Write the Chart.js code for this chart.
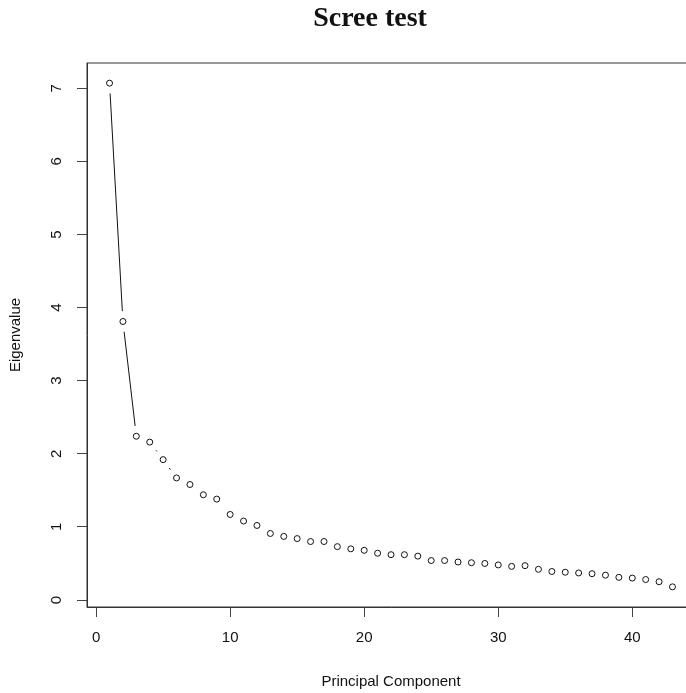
<!DOCTYPE html>
<html>
<head>
<meta charset="utf-8">
<script src="https://cdn.jsdelivr.net/npm/chart.js@4.4.0/dist/chart.umd.min.js"></script>
<style>
  html, body { margin: 0; padding: 0; background: #fff; overflow: hidden; }
  #wrap { position: relative; width: 700px; height: 693px; }
</style>
</head>
<body>
<div id="wrap"><canvas id="screeChart"></canvas></div>
<script>
// scree plot data
const components = [1, 2, 3, 4, 5, 6, 7, 8, 9, 10, 11, 12, 13, 14, 15, 16, 17, 18, 19, 20,
  21, 22, 23, 24, 25, 26, 27, 28, 29, 30, 31, 32, 33, 34, 35, 36, 37, 38, 39, 40, 41, 42, 43];
const eigenvalues = [7.07, 3.81, 2.24, 2.16, 1.92, 1.67, 1.58, 1.44, 1.38, 1.17,
  1.08, 1.02, 0.91, 0.87, 0.84, 0.80, 0.80, 0.73, 0.70, 0.68,
  0.64, 0.62, 0.62, 0.60, 0.54, 0.54, 0.52, 0.51, 0.50, 0.48,
  0.46, 0.47, 0.42, 0.39, 0.38, 0.37, 0.36, 0.34, 0.31, 0.30,
  0.28, 0.25, 0.18];
const xTicks = [0, 10, 20, 30, 40];
const yTicks = [0, 1, 2, 3, 4, 5, 6, 7];

// R style 4% axis extension
function extend(vals) {
  const lo = Math.min(...vals), hi = Math.max(...vals);
  const d = (hi - lo) * 0.04;
  return [lo - d, hi + d];
}
const [xMin, xMax] = extend(components);
const [yMin, yMax] = extend(eigenvalues);

const sansFont = { family: "'Liberation Sans', Arial, sans-serif", size: 15 };
const ink = "#111";

// box around plot region
const boxPlugin = {
  id: "box",
  beforeDatasetsDraw(chart) {
    const { ctx, chartArea: a } = chart;
    ctx.save();
    ctx.strokeStyle = "#333";
    ctx.lineWidth = 1;
    ctx.strokeRect(a.left, a.top, a.right - a.left, a.bottom - a.top);
    ctx.restore();
  }
};

// type="b": line segments with gaps around each point
const gapLines = {
  id: "gapLines",
  beforeDatasetsDraw(chart) {
    const pts = chart.getDatasetMeta(0).data;
    const gap = 10.3;
    const ctx = chart.ctx;
    ctx.save();
    ctx.strokeStyle = ink;
    ctx.lineWidth = 1;
    ctx.beginPath();
    for (let i = 1; i < pts.length; i++) {
      const p = pts[i - 1], q = pts[i];
      const dx = q.x - p.x, dy = q.y - p.y;
      const len = Math.hypot(dx, dy);
      if (len <= 2 * gap) continue;
      const ux = dx / len, uy = dy / len;
      ctx.moveTo(p.x + ux * gap, p.y + uy * gap);
      ctx.lineTo(q.x - ux * gap, q.y - uy * gap);
    }
    ctx.stroke();
    ctx.restore();
  }
};

// rotated y tick labels + main title
const textPlugin = {
  id: "texts",
  afterDraw(chart) {
    const { ctx } = chart;
    const ys = chart.scales.y;
    ctx.save();
    ctx.fillStyle = ink;
    ctx.font = "15px 'Liberation Sans', Arial, sans-serif";
    ctx.textAlign = "center";
    ctx.textBaseline = "middle";
    ys.ticks.forEach((t) => {
      const y = ys.getPixelForValue(t.value);
      ctx.save();
      ctx.translate(57, y);
      ctx.rotate(-Math.PI / 2);
      ctx.fillText(String(t.value), 0, 0);
      ctx.restore();
    });
    ctx.font = "bold 28px 'Liberation Serif', 'Times New Roman', serif";
    ctx.textBaseline = "alphabetic";
    ctx.fillText("Scree test", 370, 26);
    ctx.restore();
  }
};

new Chart(document.getElementById("screeChart"), {
  type: "scatter",
  data: {
    datasets: [
      {
        data: components.map((c, i) => ({ x: c, y: eigenvalues[i] })),
        pointRadius: 3,
        pointBorderWidth: 1,
        pointBorderColor: ink,
        pointBackgroundColor: "#fff",
        showLine: false
      }
    ]
  },
  options: {
    responsive: true,
    maintainAspectRatio: false,
    animation: false,
    layout: { padding: { top: 63, right: 5, bottom: 0, left: 0 } },
    plugins: {
      legend: { display: false },
      tooltip: { enabled: false }
    },
    scales: {
      x: {
        type: "linear",
        min: xMin,
        max: xMax,
        afterBuildTicks: (s) => { s.ticks = xTicks.map((v) => ({ value: v })); },
        afterFit: (s) => { s.height = 86; },
        grid: { drawOnChartArea: false, tickLength: 10, color: "#444" },
        border: { display: true, color: "#333" },
        ticks: { font: sansFont, color: ink, padding: 12, maxRotation: 0, autoSkip: false },
        title: { display: true, text: "Principal Component", font: sansFont, color: ink, padding: { top: 0, bottom: 2 } }
      },
      y: {
        type: "linear",
        min: yMin,
        max: yMax,
        afterBuildTicks: (s) => { s.ticks = yTicks.map((v) => ({ value: v })); },
        afterFit: (s) => { s.width = 87; },
        grid: { drawOnChartArea: false, tickLength: 10, color: "#444" },
        border: { display: true, color: "#333" },
        ticks: { display: false },
        title: { display: true, text: "Eigenvalue", font: sansFont, color: ink, padding: { top: 7, bottom: 0 } }
      }
    }
  },
  plugins: [boxPlugin, gapLines, textPlugin]
});
</script>
</body>
</html>
